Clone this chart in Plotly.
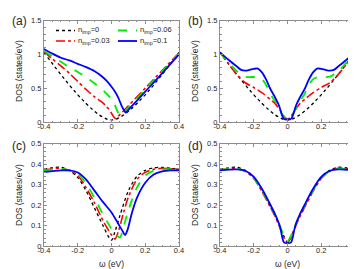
import plotly.graph_objects as go

# ---------------- data ----------------
# panel (a)
a_black_x = [-0.4, 0.0, 0.4]
a_black_y = [1.03, 0.03, 1.03]
a_red_x = [-0.4, -0.35, -0.3, -0.25, -0.2, -0.15, -0.1, -0.06, -0.03, 0.0, 0.015, 0.025, 0.04, 0.1, 0.2, 0.3, 0.4]
a_red_y = [1.04, 0.93, 0.83, 0.72, 0.6, 0.48, 0.37, 0.3, 0.23, 0.13, 0.07, 0.05, 0.085, 0.24, 0.5, 0.76, 1.02]
a_green_x = [-0.4, -0.35, -0.3, -0.25, -0.2, -0.15, -0.1, -0.06, -0.03, 0.0, 0.02, 0.035, 0.05, 0.065, 0.1, 0.2, 0.3, 0.4]
a_green_y = [1.05, 0.97, 0.89, 0.81, 0.74, 0.66, 0.57, 0.49, 0.42, 0.34, 0.25, 0.16, 0.09, 0.12, 0.21, 0.48, 0.75, 1.01]
a_blue_x = [-0.4, -0.35, -0.3, -0.25, -0.2, -0.15, -0.1, -0.06, -0.03, 0.0, 0.02, 0.04, 0.06, 0.075, 0.085, 0.1, 0.2, 0.3, 0.4]
a_blue_y = [1.08, 1.01, 0.95, 0.91, 0.86, 0.81, 0.75, 0.68, 0.61, 0.52, 0.45, 0.36, 0.24, 0.17, 0.14, 0.18, 0.45, 0.72, 1.0]

# panel (b)
b_black_x = [-0.4, 0.0, 0.4]
b_black_y = [1.03, 0.03, 1.03]
b_red_x = [-0.4, -0.35, -0.3, -0.25, -0.2, -0.15, -0.1, -0.08, -0.06, -0.04, -0.02, 0.0,
           0.02, 0.04, 0.06, 0.08, 0.1, 0.15, 0.2, 0.25, 0.3, 0.35, 0.4]
b_red_y = [1.03, 0.86, 0.7, 0.58, 0.51, 0.43, 0.33, 0.29, 0.23, 0.16, 0.08, 0.04,
           0.08, 0.16, 0.23, 0.29, 0.33, 0.43, 0.51, 0.58, 0.7, 0.86, 1.03]
b_green_x = [-0.4, -0.35, -0.3, -0.25, -0.2, -0.175, -0.15, -0.125, -0.1, -0.08, -0.06, -0.04, -0.02, 0.0,
             0.02, 0.04, 0.06, 0.08, 0.1, 0.125, 0.15, 0.175, 0.2, 0.25, 0.3, 0.35, 0.4]
b_green_y = [1.03, 0.88, 0.75, 0.67, 0.665, 0.66, 0.63, 0.54, 0.41, 0.33, 0.25, 0.15, 0.07, 0.04,
             0.07, 0.15, 0.25, 0.33, 0.41, 0.54, 0.63, 0.66, 0.665, 0.67, 0.75, 0.88, 1.03]
b_blue_x = [-0.4, -0.35, -0.3, -0.275, -0.25, -0.225, -0.2, -0.175, -0.15, -0.125, -0.1, -0.075, -0.05, -0.035,
            -0.025, -0.015, 0.0, 0.015, 0.025, 0.035, 0.05, 0.075, 0.1, 0.125, 0.15, 0.175, 0.2, 0.225,
            0.25, 0.275, 0.3, 0.35, 0.4]
b_blue_y = [1.03, 0.92, 0.82, 0.77, 0.76, 0.77, 0.785, 0.79, 0.73, 0.62, 0.48, 0.37, 0.24, 0.12,
            0.06, 0.04, 0.04, 0.04, 0.06, 0.12, 0.24, 0.37, 0.48, 0.62, 0.73, 0.79, 0.785, 0.77,
            0.76, 0.77, 0.82, 0.92, 1.03]

# panel (c)
c_black_x = [-0.4, -0.35, -0.3, -0.25, -0.2, -0.15, -0.1, -0.05, -0.02, 0.0, 0.02, 0.05, 0.1, 0.15, 0.2, 0.25, 0.3, 0.35, 0.4]
c_black_y = [0.375, 0.383, 0.385, 0.37, 0.335, 0.27, 0.185, 0.1, 0.05, 0.03, 0.07, 0.15, 0.27, 0.34, 0.37, 0.382, 0.385, 0.38, 0.375]
c_red_x = [-0.4, -0.35, -0.3, -0.25, -0.2, -0.15, -0.1, -0.05, 0.0, 0.02, 0.04, 0.07, 0.1, 0.15, 0.2, 0.25, 0.3, 0.35, 0.4]
c_red_y = [0.372, 0.378, 0.38, 0.37, 0.345, 0.285, 0.21, 0.125, 0.055, 0.035, 0.07, 0.16, 0.24, 0.325, 0.36, 0.375, 0.38, 0.378, 0.375]
c_green_x = [-0.4, -0.35, -0.3, -0.25, -0.2, -0.15, -0.1, -0.05, 0.0, 0.03, 0.05, 0.07, 0.1, 0.15, 0.2, 0.25, 0.3, 0.35, 0.4]
c_green_y = [0.37, 0.375, 0.377, 0.37, 0.355, 0.305, 0.235, 0.155, 0.085, 0.055, 0.042, 0.09, 0.175, 0.285, 0.345, 0.368, 0.375, 0.376, 0.375]
c_blue_x = [-0.4, -0.35, -0.3, -0.25, -0.2, -0.15, -0.1, -0.05, 0.0, 0.04, 0.065, 0.08, 0.095, 0.12, 0.15, 0.2, 0.25, 0.3, 0.35, 0.4]
c_blue_y = [0.362, 0.366, 0.37, 0.37, 0.36, 0.325, 0.27, 0.215, 0.165, 0.11, 0.075, 0.055, 0.08, 0.16, 0.235, 0.31, 0.35, 0.365, 0.37, 0.37]

# panel (d)
d_x = [-0.4, -0.35, -0.3, -0.25, -0.2, -0.15, -0.1, -0.075, -0.05, -0.025, 0.0,
       0.025, 0.05, 0.075, 0.1, 0.15, 0.2, 0.25, 0.3, 0.35, 0.4]
d_black_y = [0.375, 0.382, 0.385, 0.37, 0.335, 0.27, 0.19, 0.15, 0.105, 0.055, 0.02,
             0.055, 0.105, 0.15, 0.19, 0.27, 0.335, 0.37, 0.385, 0.382, 0.375]
d_red_y = [0.373, 0.378, 0.38, 0.366, 0.33, 0.265, 0.188, 0.148, 0.102, 0.05, 0.018,
           0.05, 0.102, 0.148, 0.188, 0.265, 0.33, 0.366, 0.38, 0.378, 0.373]
d_green_y = [0.372, 0.376, 0.378, 0.366, 0.332, 0.27, 0.195, 0.155, 0.11, 0.06, 0.025,
             0.06, 0.11, 0.155, 0.195, 0.27, 0.332, 0.366, 0.378, 0.376, 0.372]
d_blue_x = [-0.4, -0.3, -0.25, -0.2, -0.15, -0.1, -0.07, -0.05, -0.04, -0.03, -0.02, 0.0,
            0.02, 0.03, 0.04, 0.05, 0.07, 0.1, 0.15, 0.2, 0.25, 0.3, 0.4]
d_blue_y = [0.37, 0.375, 0.368, 0.338, 0.278, 0.2, 0.15, 0.11, 0.08, 0.04, 0.018, 0.015,
            0.018, 0.04, 0.08, 0.11, 0.15, 0.2, 0.278, 0.338, 0.368, 0.375, 0.37]

legend_labels = ["n<sub>imp</sub>=0", "n<sub>imp</sub>=0.03", "n<sub>imp</sub>=0.06", "n<sub>imp</sub>=0.1"]
panel_labels = ["(a)", "(b)", "(c)", "(d)"]
x_title = "ω (eV)"
y_title = "DOS (states/eV)"
x_tickvals = [-0.4, -0.2, 0, 0.2, 0.4]
x_ticktext = ["-0.4", "-0.2", "0", "0.2", "0.4"]
y_top_tickvals = [0, 0.5, 1, 1.5]
y_top_ticktext = ["0", "0.5", "1", "1.5"]
y_bot_tickvals = [0, 0.1, 0.2, 0.3, 0.4, 0.5]
y_bot_ticktext = ["0", "0.1", "0.2", "0.3", "0.4", "0.5"]

# ---------------- styles ----------------
W, H = 356, 269
FONT = "Liberation Sans, Arial, sans-serif"
TXT = "#262626"
FRAME = "#8c8c8c"
styles = [
    dict(color="#000000", width=1.3, dash="dot"),
    dict(color="#ff0000", width=1.6, dash="dashdot"),
    dict(color="#00ee00", width=1.8, dash="dash"),
    dict(color="#0000ff", width=1.8, dash="solid"),
]

fig = go.Figure()

series = [
    (1, [(a_black_x, a_black_y), (a_red_x, a_red_y), (a_green_x, a_green_y), (a_blue_x, a_blue_y)]),
    (2, [(b_black_x, b_black_y), (b_red_x, b_red_y), (b_green_x, b_green_y), (b_blue_x, b_blue_y)]),
    (3, [(c_black_x, c_black_y), (c_red_x, c_red_y), (c_green_x, c_green_y), (c_blue_x, c_blue_y)]),
    (4, [(d_x, d_black_y), (d_x, d_red_y), (d_x, d_green_y), (d_blue_x, d_blue_y)]),
]
for k, lst in series:
    sfx = "" if k == 1 else str(k)
    for i, (xs, ys) in enumerate(lst):
        fig.add_trace(go.Scatter(
            x=xs, y=ys, mode="lines", line=dict(shape="spline", smoothing=0.8, **styles[i]),
            xaxis="x" + sfx, yaxis="y" + sfx, showlegend=False, name=legend_labels[i]))

# domains in pixels
def px_x(a, b):
    return [a / W, b / W]

def px_y(top, bottom):
    return [1 - bottom / H, 1 - top / H]

xdom = {1: px_x(36, 171), 2: px_x(212, 347), 3: px_x(36, 171), 4: px_x(212, 347)}
ydom = {1: px_y(12.5, 114), 2: px_y(12.5, 114), 3: px_y(135.7, 238.3), 4: px_y(135.7, 238.3)}

axis_common = dict(showline=True, linecolor=FRAME, linewidth=1, mirror="allticks", ticks="inside",
                   ticklen=3, tickcolor=FRAME, tickwidth=1, showgrid=False, zeroline=False,
                   tickfont=dict(family=FONT, size=7.5, color=TXT), automargin=False)
lay = {}
for k in range(1, 5):
    sfx = "" if k == 1 else str(k)
    xa = dict(axis_common, domain=xdom[k], anchor="y" + sfx, range=[-0.4, 0.4],
              tickvals=x_tickvals, ticktext=x_ticktext, ticklabelstandoff=-3,
              minor=dict(dtick=0.05, tick0=0, ticks="inside", ticklen=1.5, tickcolor=FRAME))
    top = k <= 2
    ya = dict(axis_common, domain=ydom[k], anchor="x" + sfx,
              range=[0, 1.5] if top else [0, 0.5],
              tickvals=y_top_tickvals if top else y_bot_tickvals,
              ticktext=y_top_ticktext if top else y_bot_ticktext,
              minor=dict(dtick=0.1 if top else 0.02, tick0=0, ticks="inside", ticklen=1.5, tickcolor=FRAME))
    lay["xaxis" + sfx] = xa
    lay["yaxis" + sfx] = ya

annotations = []
label_pos = [(2, 13), (178, 13), (2, 137.5), (178, 137.5)]
for lab, (lx, ly) in zip(panel_labels, label_pos):
    annotations.append(dict(text=lab, x=lx / W, y=1 - ly / H, xref="paper", yref="paper",
                            xanchor="left", yanchor="middle", showarrow=False,
                            font=dict(family=FONT, size=12, color=TXT)))

# axis titles
for cx, cy in [(11, 63), (187, 63), (11, 187), (187, 187)]:
    annotations.append(dict(text=y_title, x=cx / W, y=1 - cy / H, xref="paper", yref="paper",
                            xanchor="center", yanchor="middle", textangle=-90, showarrow=False,
                            font=dict(family=FONT, size=8.5, color=TXT)))
for cx, cy in [(103.5, 256), (279.5, 256)]:
    annotations.append(dict(text=x_title, x=cx / W, y=1 - cy / H, xref="paper", yref="paper",
                            xanchor="center", yanchor="middle", showarrow=False,
                            font=dict(family=FONT, size=8.5, color=TXT)))

# legend (drawn inside panel a)
leg_items = [(0, 48, 22.5), (2, 110, 22.5), (1, 48, 33), (3, 110, 33)]
shapes = []
for idx, lx, ly in leg_items:
    st = styles[idx]
    shapes.append(dict(type="line", xref="paper", yref="paper",
                       x0=lx / W, x1=(lx + 19) / W, y0=1 - ly / H, y1=1 - ly / H,
                       line=dict(color=st["color"], width=st["width"], dash=st["dash"])))
    annotations.append(dict(text=legend_labels[idx], x=(lx + 19.5) / W, y=1 - ly / H,
                            xref="paper", yref="paper", xanchor="left", yanchor="middle",
                            showarrow=False, font=dict(family=FONT, size=7.5, color=TXT)))

fig.update_layout(width=W, height=H, margin=dict(l=0, r=0, t=0, b=0),
                  paper_bgcolor="white", plot_bgcolor="white", showlegend=False,
                  annotations=annotations, shapes=shapes, **lay)
fig.write_html("out.html")
